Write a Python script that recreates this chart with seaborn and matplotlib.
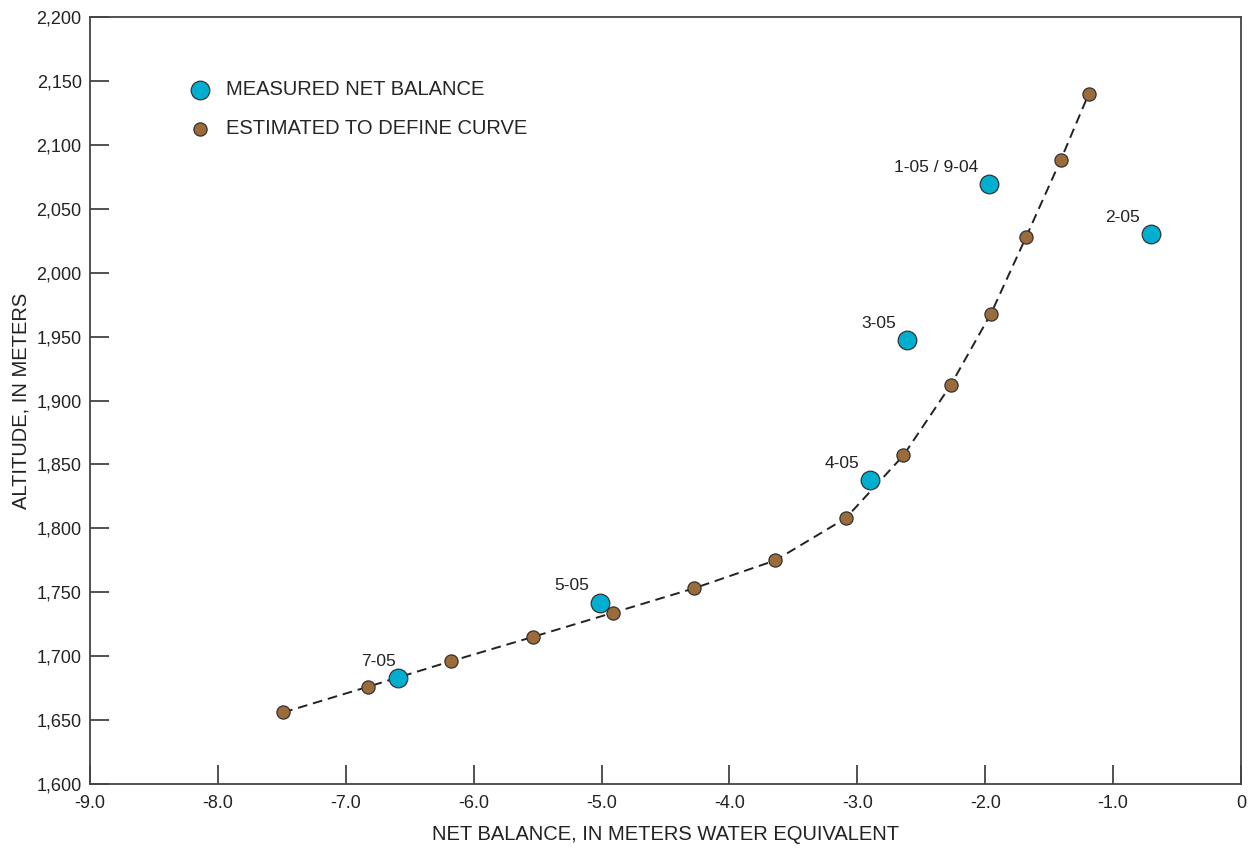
import matplotlib
matplotlib.use("Agg")
import matplotlib.pyplot as plt
from matplotlib.ticker import FuncFormatter, MultipleLocator
import seaborn as sns
import pandas as pd

# estimated points that define the curve
est_balance = [-7.49, -6.83, -6.18, -5.54, -4.91, -4.28, -3.64, -3.09,
               -2.64, -2.27, -1.955, -1.68, -1.41, -1.19]
est_altitude = [1656, 1676, 1696, 1715, 1734, 1753, 1775, 1808,
                1857, 1912, 1968, 2028, 2088, 2140]

# measured net balance at stakes
meas_balance = [-6.59, -5.01, -2.90, -2.61, -1.97, -0.70]
meas_altitude = [1683, 1742, 1838, 1947, 2069, 2030]
meas_labels = ["7-05", "5-05", "4-05", "3-05", "1-05 / 9-04", "2-05"]

est = pd.DataFrame({"balance": est_balance, "altitude": est_altitude})
meas = pd.DataFrame({"balance": meas_balance, "altitude": meas_altitude,
                     "label": meas_labels})

sns.set_style("white")
plt.rcParams["font.family"] = ["Liberation Sans", "DejaVu Sans"]

blue = "#00AECF"
brown = "#9C6B3A"
edge = "#333333"
txt = "#222222"

fig = plt.figure(figsize=(12.54, 8.5), dpi=100)
ax = fig.add_axes([0.0718, 0.0776, 0.9178, 0.9024])

sns.lineplot(data=est, x="balance", y="altitude", ax=ax, color=txt,
             linestyle=(0, (5, 3)), linewidth=1.4, sort=False, zorder=2)
sns.scatterplot(data=est, x="balance", y="altitude", ax=ax, color=brown,
                edgecolor=edge, linewidth=0.9, s=90, zorder=3)
sns.scatterplot(data=meas, x="balance", y="altitude", ax=ax, color=blue,
                edgecolor=edge, linewidth=0.9, s=180, zorder=4)

for _, r in meas.iterrows():
    dx = -2 if r["label"] == "7-05" else -8
    ax.annotate(r["label"], (r["balance"], r["altitude"]),
                xytext=(dx, 12), textcoords="offset points",
                ha="right", va="center", fontsize=12.5, color=txt)

ax.set_xlim(-9, 0)
ax.set_ylim(1600, 2200)
ax.xaxis.set_major_locator(MultipleLocator(1))
ax.yaxis.set_major_locator(MultipleLocator(50))
ax.xaxis.set_major_formatter(FuncFormatter(lambda v, p: "0" if abs(v) < 1e-9 else f"{v:.1f}"))
ax.yaxis.set_major_formatter(FuncFormatter(lambda v, p: f"{v:,.0f}"))
ax.tick_params(direction="in", length=14, width=1.1, labelsize=13,
               colors=txt, bottom=True, left=True, top=False, right=False)
ax.tick_params(axis="x", pad=8)
ax.tick_params(axis="y", pad=6)
for s in ax.spines.values():
    s.set_color("#444444")
    s.set_linewidth(1.3)

ax.set_xlabel("NET BALANCE, IN METERS WATER EQUIVALENT", fontsize=14.5, color=txt, labelpad=9)
ax.set_ylabel("ALTITUDE, IN METERS", fontsize=14.5, color=txt, labelpad=4)

# legend
h1 = ax.scatter([], [], s=180, color=blue, edgecolor=edge, linewidth=0.9)
h2 = ax.scatter([], [], s=90, color=brown, edgecolor=edge, linewidth=0.9)
ax.legend([h1, h2], ["MEASURED NET BALANCE", "ESTIMATED TO DEFINE CURVE"],
          loc="upper left", bbox_to_anchor=(0.080, 0.928), frameon=False,
          fontsize=14.5, handlelength=1.0, handletextpad=0.8,
          labelspacing=1.0, borderaxespad=0)

fig.savefig("out.png", dpi=100)
